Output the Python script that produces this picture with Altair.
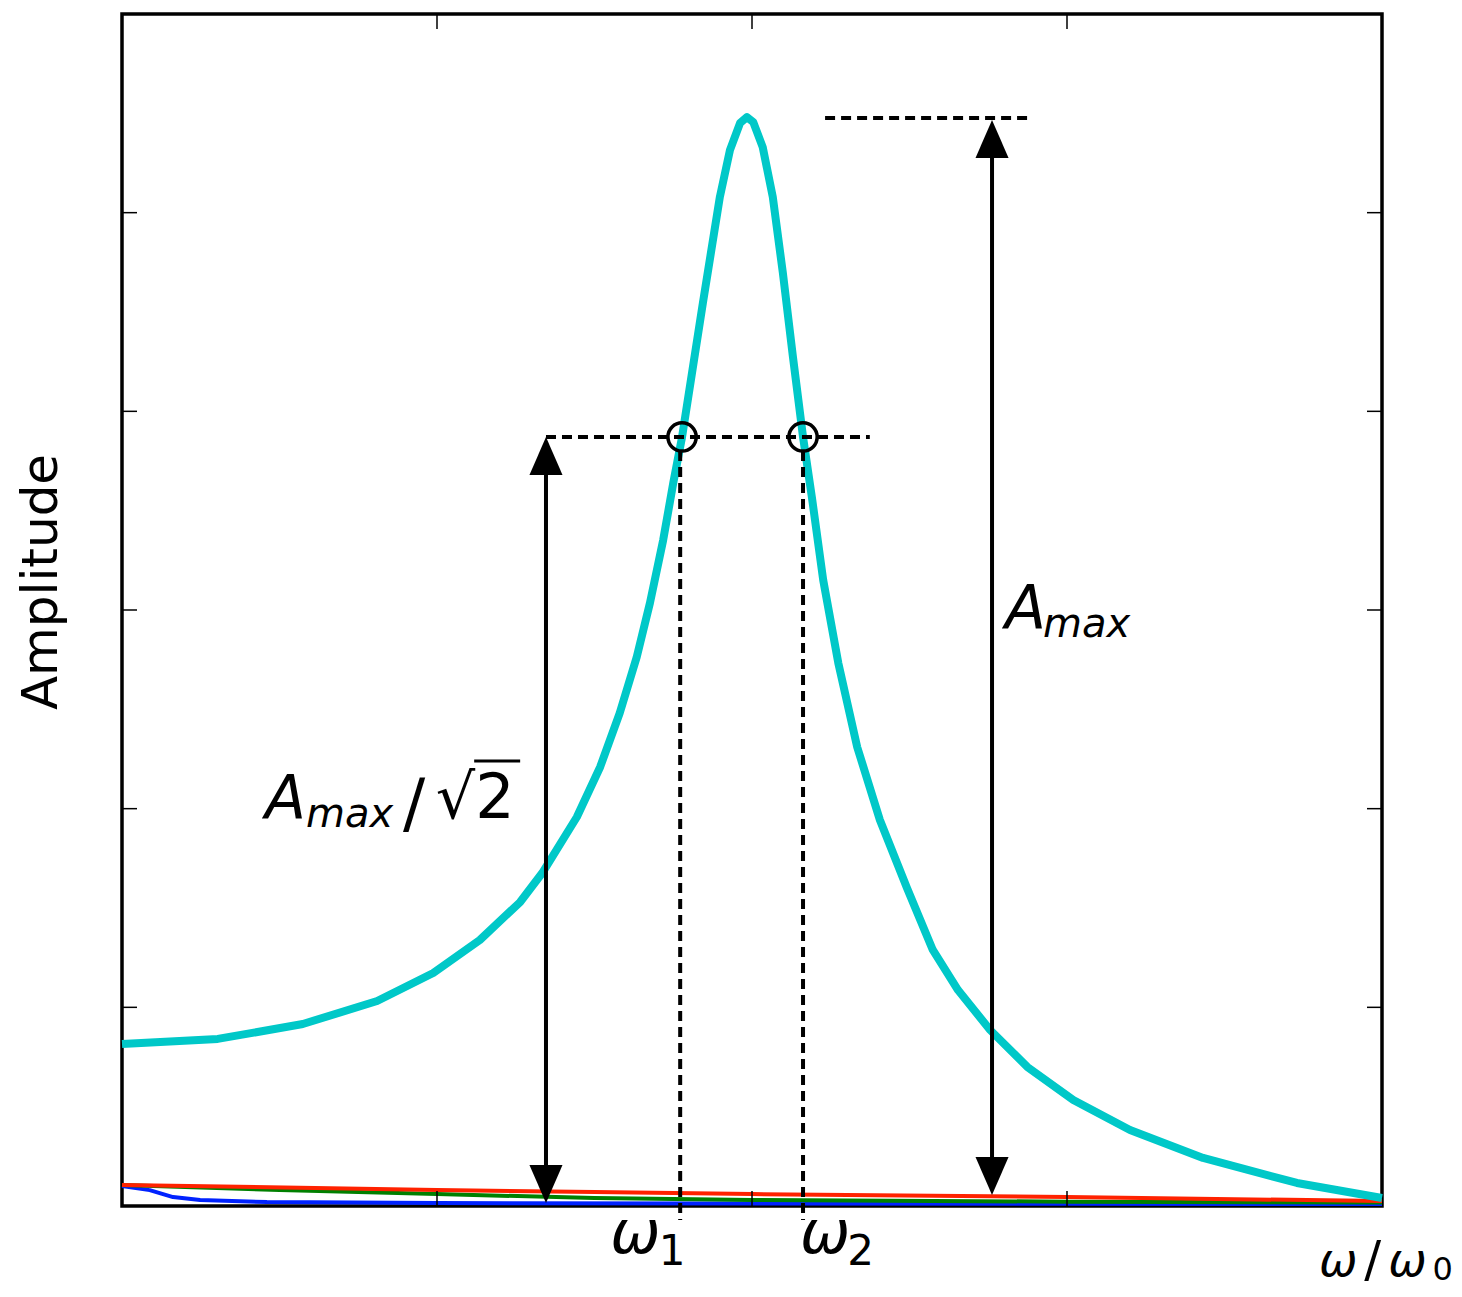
import altair as alt
import pandas as pd

W, H = 1260, 1192

# ---------------- data ----------------
cyan_x = [0.0, 0.152, 0.287, 0.405, 0.494, 0.568, 0.632, 0.667, 0.722, 0.759,
          0.790, 0.817, 0.838, 0.859, 0.875, 0.889, 0.922, 0.949, 0.965, 0.981,
          0.992, 1.002, 1.017, 1.033, 1.049, 1.065, 1.081, 1.095, 1.113, 1.137,
          1.167, 1.203, 1.246, 1.287, 1.327, 1.378, 1.437, 1.510, 1.600, 1.716,
          1.865, 2.0]
cyan_y = [0.815, 0.841, 0.916, 1.032, 1.173, 1.339, 1.530, 1.676, 1.958, 2.210,
          2.481, 2.763, 3.035, 3.352, 3.639, 3.871, 4.545, 5.079, 5.315, 5.451,
          5.481, 5.456, 5.330, 5.079, 4.696, 4.273, 3.871, 3.569, 3.151, 2.733,
          2.310, 1.943, 1.601, 1.289, 1.087, 0.886, 0.700, 0.534, 0.383, 0.242,
          0.116, 0.040]

blue_x = [0.0, 0.044, 0.081, 0.124, 0.23, 0.5, 1.0, 1.5, 2.0]
blue_y = [0.100, 0.080, 0.045, 0.030, 0.020, 0.015, 0.012, 0.011, 0.010]

green_x = [0.0, 0.25, 0.5, 0.75, 1.0, 1.5, 2.0]
green_y = [0.106, 0.080, 0.060, 0.040, 0.030, 0.022, 0.018]

red_x = [0.0, 0.5, 0.75, 1.0, 1.5, 2.0]
red_y = [0.106, 0.081, 0.070, 0.060, 0.045, 0.025]

x_ticks = [0.5, 1.0, 1.5]
y_ticks = [1, 2, 3, 4, 5]

a_max = 5.476
a_half = 3.871
w1, w2 = 0.886, 1.081

# ---------------- helpers ----------------
xs = alt.Scale(domain=[0, 2], nice=False, zero=False)
ys = alt.Scale(domain=[0, 6], nice=False, zero=False)


def X(f):
    return alt.X(f"{f}:Q", scale=xs, axis=None)


def Y(f):
    return alt.Y(f"{f}:Q", scale=ys, axis=None)


def line(xv, yv, color, width):
    df = pd.DataFrame({"x": xv, "y": yv})
    return alt.Chart(df).mark_line(color=color, strokeWidth=width, strokeJoin="round").encode(
        x=X("x"), y=Y("y"))


blue = line(blue_x, blue_y, "#0022ff", 4)
green = line(green_x, green_y, "#008000", 4)
red = line(red_x, red_y, "#ff2200", 4)
cyan = line(cyan_x, cyan_y, "#00c8c8", 8)

# dashed horizontal guides
hdash = alt.Chart(pd.DataFrame({
    "x": [1.116, 0.673], "x2": [1.446, 1.187], "y": [a_max, a_half]
})).mark_rule(color="black", strokeWidth=4, strokeDash=[10, 6]).encode(
    x=X("x"), x2="x2:Q", y=Y("y"))

# dashed vertical guides
vdash = alt.Chart(pd.DataFrame({
    "x": [w1, w2], "y": [3.80, 3.80], "y2": [-0.07, -0.07]
})).mark_rule(color="black", strokeWidth=4, strokeDash=[10, 6]).encode(
    x=X("x"), y=Y("y"), y2="y2:Q")

# arrow shafts
shafts = alt.Chart(pd.DataFrame({
    "x": [0.673, 1.381], "y": [0.106, 0.156], "y2": [3.765, 5.366]
})).mark_rule(color="black", strokeWidth=4).encode(
    x=X("x"), y=Y("y"), y2="y2:Q")

up_head = alt.Chart(pd.DataFrame({"x": [0.673, 1.381], "y": [a_half, 5.466]})).mark_point(
    shape="M0,0L0.87,2L-0.87,2Z", filled=True, color="black", opacity=1, size=1444,
    strokeWidth=0).encode(x=X("x"), y=Y("y"))
down_head = alt.Chart(pd.DataFrame({"x": [0.673, 1.381], "y": [0.015, 0.055]})).mark_point(
    shape="M0,0L0.87,-2L-0.87,-2Z", filled=True, color="black", opacity=1, size=1444,
    strokeWidth=0).encode(x=X("x"), y=Y("y"))

circles = alt.Chart(pd.DataFrame({"x": [0.889, 1.081], "y": [a_half, a_half]})).mark_point(
    shape="circle", filled=False, color="black", opacity=1, size=800, strokeWidth=3.5).encode(
    x=X("x"), y=Y("y"))

# inward ticks
tx = pd.DataFrame({"x": x_ticks})
ty = pd.DataFrame({"y": y_ticks})
tick_b = alt.Chart(tx).mark_rule(color="black", strokeWidth=1.5).encode(
    x=X("x"), y=alt.value(H), y2=alt.value(H - 15))
tick_t = alt.Chart(tx).mark_rule(color="black", strokeWidth=1.5).encode(
    x=X("x"), y=alt.value(0), y2=alt.value(15))
tick_l = alt.Chart(ty).mark_rule(color="black", strokeWidth=1.5).encode(
    y=Y("y"), x=alt.value(0), x2=alt.value(15))
tick_r = alt.Chart(ty).mark_rule(color="black", strokeWidth=1.5).encode(
    y=Y("y"), x=alt.value(W), x2=alt.value(W - 15))

# text annotations
ital = pd.DataFrame({
    "x": [1.4016, 1.462, 0.227, 0.292, 0.775, 1.076, 1.900, 2.010],
    "y": [2.909, 2.864, 1.953, 1.908, -0.2366, -0.2366, -0.352, -0.352],
    "t": ["A", "max", "A", "max", "ω", "ω", "ω", "ω"],
    "fs": [60, 40, 60, 40, 60, 60, 46, 46],
})
upr = pd.DataFrame({
    "x": [0.446, 0.498, 0.852, 1.151, 1.972, 2.080],
    "y": [1.913, 1.953, -0.297, -0.297, -0.352, -0.372],
    "t": ["/", "√2", "1", "2", "/", "0"],
    "fs": [66, 62, 42, 42, 50, 32],
})
txt_i = alt.Chart(ital).mark_text(align="left", baseline="alphabetic", fontStyle="italic",
                                  font="DejaVu Sans", color="black").encode(
    x=X("x"), y=Y("y"), text="t:N", size=alt.Size("fs:Q", scale=None))
txt_u = alt.Chart(upr).mark_text(align="left", baseline="alphabetic",
                                 font="DejaVu Sans", color="black").encode(
    x=X("x"), y=Y("y"), text="t:N", size=alt.Size("fs:Q", scale=None))

overbar = alt.Chart(pd.DataFrame({"x": [0.559], "x2": [0.632], "y": [2.240]})).mark_rule(
    color="black", strokeWidth=3).encode(x=X("x"), x2="x2:Q", y=Y("y"))

ylab = alt.Chart(pd.DataFrame({"x": [-0.1032], "y": [3.141], "t": ["Amplitude"]})).mark_text(
    angle=270, align="center", baseline="alphabetic", font="DejaVu Sans", fontSize=50,
    color="black").encode(x=X("x"), y=Y("y"), text="t:N")

chart = alt.layer(
    blue, green, red, cyan, hdash, vdash, shafts, up_head, down_head, circles,
    tick_b, tick_t, tick_l, tick_r, txt_i, txt_u, overbar, ylab
).properties(
    width=W, height=H, autosize="none",
    padding={"left": 114, "top": 6, "right": 72, "bottom": 82},
).configure_view(stroke="black", strokeWidth=3.5)

chart.save("out.html", embed_options={"renderer": "svg", "actions": False})
